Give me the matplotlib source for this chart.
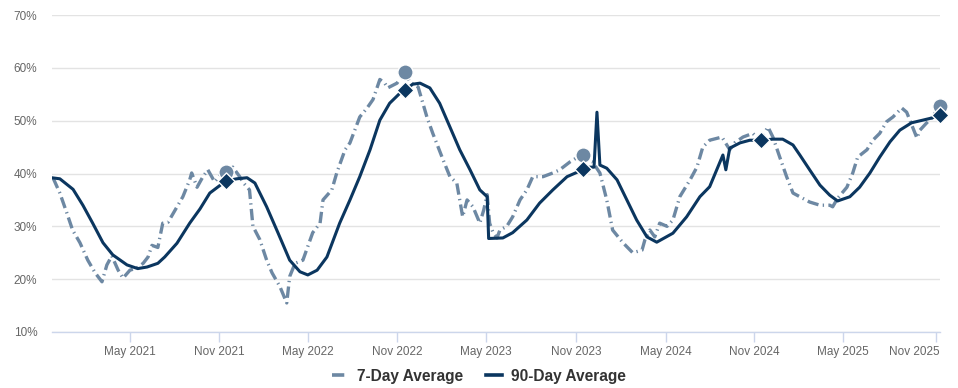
#!/usr/bin/env python3
# -*- coding: utf-8 -*-
"""
plot.py — 7-day vs 90-day average (share, %), Nov 2020 – Nov 2025.

Values were read off the reference picture; dates are approximate.
Output: out.png (958x388 px).
"""
import matplotlib

matplotlib.use("Agg")
import matplotlib.pyplot as plt
import matplotlib.transforms as mtransforms
import pandas as pd
from matplotlib.lines import Line2D
from matplotlib.ticker import FuncFormatter, MultipleLocator

# ── Data ─────────────────────────────────────────────────────────────────────
DATES_90D = [
    "2020-11-22", "2020-12-09", "2021-01-05", "2021-01-25", "2021-02-14", "2021-03-07",
    "2021-03-27", "2021-04-25", "2021-05-17", "2021-06-05", "2021-06-27", "2021-07-11",
    "2021-08-05", "2021-08-31", "2021-09-21", "2021-10-11", "2021-11-13", "2021-12-05",
    "2021-12-26", "2022-01-11", "2022-02-04", "2022-02-27", "2022-03-23", "2022-04-13",
    "2022-04-29", "2022-05-18", "2022-06-07", "2022-07-03", "2022-07-24", "2022-08-13",
    "2022-09-03", "2022-09-23", "2022-10-13", "2022-11-03", "2022-11-13", "2022-11-29",
    "2022-12-14", "2023-01-03", "2023-01-23", "2023-02-13", "2023-03-05", "2023-03-26",
    "2023-04-15", "2023-04-30", "2023-05-03", "2023-06-01", "2023-06-21", "2023-07-20",
    "2023-08-15", "2023-09-11", "2023-10-10", "2023-11-01", "2023-11-11", "2023-11-25",
    "2023-12-04", "2023-12-10", "2023-12-16", "2023-12-30", "2024-01-20", "2024-02-09",
    "2024-02-29", "2024-03-21", "2024-04-10", "2024-05-13", "2024-06-10", "2024-07-07",
    "2024-07-27", "2024-08-23", "2024-08-29", "2024-09-06", "2024-09-27", "2024-10-17",
    "2024-11-08", "2024-12-03", "2024-12-23", "2025-01-13", "2025-01-27", "2025-02-16",
    "2025-03-09", "2025-03-29", "2025-04-14", "2025-05-09", "2025-05-29", "2025-06-19",
    "2025-07-09", "2025-07-30", "2025-08-19", "2025-09-12", "2025-10-05", "2025-10-23",
    "2025-11-08",
]
VALUES_90D = [
    39.2, 39.0, 37.0, 34.0, 30.6, 26.9,
    24.6, 22.7, 22.0, 22.3, 23.0, 24.2,
    26.8, 30.6, 33.3, 36.3, 38.6, 39.0,
    39.2, 38.2, 33.7, 28.8, 23.6, 21.4,
    20.8, 21.7, 24.2, 30.6, 35.0, 39.4,
    44.5, 50.1, 53.3, 55.2, 55.8, 56.9,
    57.1, 56.2, 53.3, 48.8, 44.5, 40.7,
    36.9, 35.6, 27.7, 27.8, 28.8, 31.2,
    34.4, 36.9, 39.4, 40.3, 40.9, 41.2,
    41.2, 51.6, 41.6, 41.0, 38.8, 35.0,
    31.2, 28.0, 27.0, 28.7, 31.8, 35.6,
    37.5, 43.5, 40.7, 44.8, 45.8, 46.3,
    46.3, 46.5, 46.5, 45.4, 43.5, 40.7,
    37.8, 35.9, 34.8, 35.6, 37.4, 40.1,
    43.1, 46.0, 48.2, 49.6, 50.1, 50.5,
    51.0,
]

DATES_7D = [
    "2020-11-25", "2020-12-09", "2020-12-23", "2021-01-04", "2021-01-19", "2021-02-04",
    "2021-02-19", "2021-03-05", "2021-03-15", "2021-03-25", "2021-04-07", "2021-04-17",
    "2021-05-01", "2021-05-15", "2021-05-28", "2021-06-07", "2021-06-15", "2021-06-27",
    "2021-07-07", "2021-07-18", "2021-08-05", "2021-08-17", "2021-08-31", "2021-09-04",
    "2021-09-15", "2021-09-27", "2021-10-07", "2021-10-21", "2021-11-05", "2021-11-13",
    "2021-11-27", "2021-12-11", "2021-12-17", "2021-12-31", "2022-01-07", "2022-01-21",
    "2022-02-04", "2022-02-15", "2022-03-03", "2022-03-17", "2022-03-23", "2022-04-03",
    "2022-04-19", "2022-05-09", "2022-05-24", "2022-05-30", "2022-06-17", "2022-06-27",
    "2022-07-14", "2022-07-24", "2022-08-13", "2022-08-28", "2022-09-09", "2022-09-23",
    "2022-10-03", "2022-10-09", "2022-10-28", "2022-11-13", "2022-11-23", "2022-12-10",
    "2022-12-28", "2023-01-09", "2023-01-30", "2023-02-13", "2023-02-27", "2023-03-11",
    "2023-03-20", "2023-04-01", "2023-04-15", "2023-04-23", "2023-04-30", "2023-05-05",
    "2023-05-12", "2023-05-20", "2023-05-26", "2023-06-09", "2023-06-21", "2023-07-06",
    "2023-07-20", "2023-08-01", "2023-08-22", "2023-09-11", "2023-09-25", "2023-10-16",
    "2023-10-30", "2023-11-11", "2023-11-19", "2023-12-01", "2023-12-16", "2023-12-30",
    "2024-01-11", "2024-02-01", "2024-02-21", "2024-03-11", "2024-03-17", "2024-03-27",
    "2024-04-06", "2024-04-16", "2024-05-01", "2024-05-13", "2024-05-27", "2024-06-17",
    "2024-07-01", "2024-07-13", "2024-07-27", "2024-08-21", "2024-09-06", "2024-09-16",
    "2024-10-03", "2024-10-23", "2024-11-06", "2024-11-23", "2024-12-03", "2024-12-17",
    "2024-12-31", "2025-01-13", "2025-01-27", "2025-02-16", "2025-03-09", "2025-03-29",
    "2025-04-04", "2025-04-14", "2025-05-03", "2025-05-15", "2025-05-25", "2025-06-13",
    "2025-06-25", "2025-07-09", "2025-07-23", "2025-08-05", "2025-08-23", "2025-09-02",
    "2025-09-14", "2025-09-23", "2025-09-29", "2025-10-13", "2025-10-25", "2025-11-08",
]
VALUES_7D = [
    39.2, 36.3, 32.6, 29.3, 26.9, 23.6,
    21.2, 19.5, 22.7, 24.4, 21.7, 20.2,
    21.7, 22.1, 23.0, 24.2, 26.4, 26.0,
    30.6, 30.8, 33.7, 35.6, 38.8, 40.1,
    37.4, 39.4, 40.7, 38.4, 40.1, 40.3,
    41.2, 39.4, 38.4, 36.9, 30.0, 27.5,
    23.6, 21.2, 18.6, 15.5, 20.5, 23.0,
    23.6, 28.8, 30.6, 35.0, 36.9, 40.1,
    44.5, 45.8, 50.7, 52.4, 54.0, 57.8,
    57.1, 56.2, 57.1, 59.2, 57.3, 56.4,
    50.7, 47.6, 42.6, 39.4, 38.2, 31.8,
    35.0, 33.7, 30.6, 33.1, 36.0, 30.6,
    28.8, 27.8, 29.3, 30.0, 31.8, 35.0,
    36.9, 39.4, 39.4, 40.1, 40.7, 42.2,
    43.0, 43.5, 42.6, 42.2, 40.1, 35.0,
    29.3, 26.9, 25.0, 25.5, 27.5, 29.3,
    28.0, 30.6, 30.0, 31.2, 35.6, 38.8,
    41.2, 45.0, 46.3, 46.9, 44.5, 45.8,
    46.9, 47.6, 46.3, 48.8, 46.9, 43.1,
    39.4, 36.3, 35.6, 34.6, 34.0, 34.0,
    33.7, 35.3, 37.4, 40.1, 43.1, 44.5,
    46.3, 47.6, 49.8, 50.7, 52.4, 51.6,
    48.8, 46.7, 48.2, 49.6, 50.7, 52.8,
]

# Highlighted points (one per November)
MARK_DATES_90D = ["2021-11-13", "2022-11-13", "2023-11-11", "2024-11-08", "2025-11-08"]
MARK_VALUES_90D = [38.6, 55.8, 40.9, 46.3, 51.0]
MARK_DATES_7D = ["2021-11-13", "2022-11-13", "2023-11-11", "2025-11-08"]
MARK_VALUES_7D = [40.3, 59.2, 43.5, 52.8]

# x ticks sit on the weekly data points closest to each May / Nov
TICK_DATES = ["2021-05-01", "2021-10-30", "2022-04-30", "2022-10-28", "2023-04-28",
              "2023-10-28", "2024-04-28", "2024-10-26", "2025-04-25", "2025-11-01"]
TICK_LABELS = ["May 2021", "Nov 2021", "May 2022", "Nov 2022", "May 2023",
               "Nov 2023", "May 2024", "Nov 2024", "May 2025", "Nov 2025"]

# ── Style ────────────────────────────────────────────────────────────────────
C_7D = "#6d88a3"
C_90D = "#0b365f"
C_GRID = "#e3e3e3"
C_AXIS = "#ccd6eb"
C_TICK = "#666666"
C_LEGEND = "#333333"
FONT = ["Liberation Sans", "DejaVu Sans"]
DASH_7D = (3.4, 1.3, 0.4, 1.3)


def main() -> None:
    plt.rcParams["font.family"] = FONT

    fig = plt.figure(figsize=(9.58, 3.88), dpi=100)
    ax = fig.add_axes([52 / 958, 56 / 388, 888 / 958, 317 / 388])

    d90 = pd.to_datetime(DATES_90D)
    d7 = pd.to_datetime(DATES_7D)

    ax.plot(d7, VALUES_7D, color=C_7D, lw=2.4, dashes=DASH_7D,
            solid_joinstyle="round", zorder=3)
    ax.plot(d90, VALUES_90D, color=C_90D, lw=2.2, solid_joinstyle="round", zorder=4)

    ax.scatter(pd.to_datetime(MARK_DATES_7D), MARK_VALUES_7D, s=120, marker="o",
               color=C_7D, edgecolor="white", linewidth=1.0, zorder=5, clip_on=False)
    ax.scatter(pd.to_datetime(MARK_DATES_90D), MARK_VALUES_90D, s=75, marker="D",
               color=C_90D, edgecolor="white", linewidth=1.0, zorder=6, clip_on=False)

    # axes
    ax.set_xlim(pd.Timestamp("2020-11-23"), pd.Timestamp("2025-11-09"))
    ax.set_ylim(10, 70)
    ax.yaxis.set_major_locator(MultipleLocator(10))
    ax.yaxis.set_major_formatter(FuncFormatter(lambda v, _: f"{v:.0f}%"))
    ax.set_xticks(pd.to_datetime(TICK_DATES))
    ax.set_xticklabels(TICK_LABELS)

    ax.grid(axis="y", color=C_GRID, lw=1.0)
    ax.set_axisbelow(True)
    for side in ("top", "right", "left"):
        ax.spines[side].set_visible(False)
    ax.spines["bottom"].set_color(C_AXIS)
    ax.spines["bottom"].set_linewidth(1.0)

    ax.tick_params(axis="y", length=0, pad=10.5, labelsize=8.5, labelcolor=C_TICK)
    ax.tick_params(axis="x", length=7, width=1.0, color=C_AXIS, pad=3,
                   labelsize=8.5, labelcolor=C_TICK)

    # last label is pushed back inside the plot area
    last = ax.get_xticklabels()[-1]
    last.set_horizontalalignment("right")
    last.set_transform(last.get_transform() +
                       mtransforms.ScaledTranslation(4 / 100, 0, fig.dpi_scale_trans))

    # legend
    handles = [
        Line2D([], [], color=C_7D, lw=2.6, dashes=DASH_7D),
        Line2D([], [], color=C_90D, lw=2.6),
    ]
    leg = fig.legend(handles, ["7-Day Average", "90-Day Average"], loc="center",
                     bbox_to_anchor=(0.5, 12 / 388), ncol=2, frameon=False,
                     handlelength=1.0, handletextpad=0.6, columnspacing=1.5,
                     prop={"weight": "bold", "size": 11.2})
    for t in leg.get_texts():
        t.set_color(C_LEGEND)

    fig.savefig("out.png", dpi=100)
    plt.close(fig)


if __name__ == "__main__":
    main()
